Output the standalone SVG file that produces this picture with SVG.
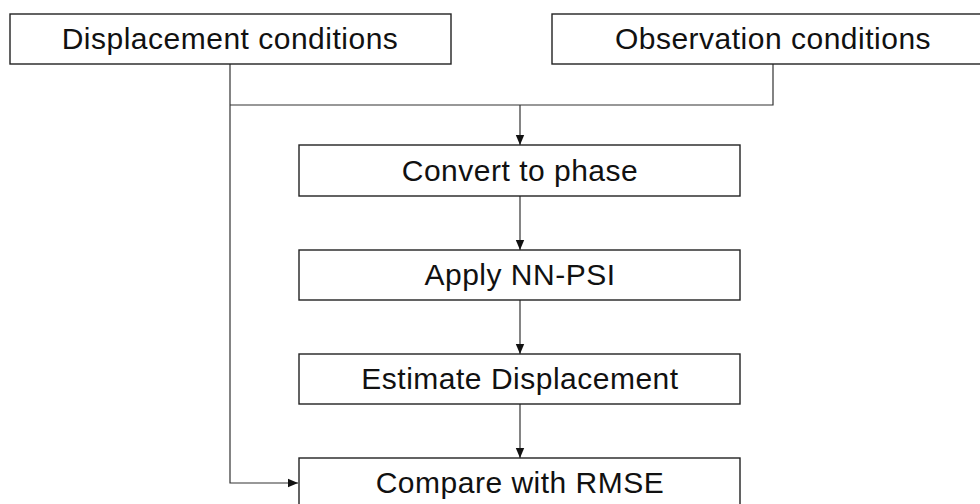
<svg xmlns="http://www.w3.org/2000/svg" width="980" height="504" viewBox="0 0 980 504">
  <style>
    .box { fill: #ffffff; stroke: #222222; stroke-width: 1.4; }
    .lbl { font-family: "Liberation Sans", Arial, sans-serif; font-size: 30px; letter-spacing: 0.5px; fill: #111111; text-anchor: middle; }
    .wire { fill: none; stroke: #333333; stroke-width: 1.2; }
  </style>
  <defs>
    <marker id="arrow" viewBox="0 0 10 10" refX="10" refY="5" markerWidth="10" markerHeight="10" markerUnits="userSpaceOnUse" orient="auto">
      <path d="M0,0.8 L10,5 L0,9.2 Z" fill="#111111"/>
    </marker>
  </defs>

  <g id="connectors">
    <path class="wire" d="M230,64 V483 H298" marker-end="url(#arrow)"/>
    <path class="wire" d="M773,64 V105 H230"/>
    <path class="wire" d="M520,105 V145" marker-end="url(#arrow)"/>
    <path class="wire" d="M520,196 V250" marker-end="url(#arrow)"/>
    <path class="wire" d="M520,300 V354" marker-end="url(#arrow)"/>
    <path class="wire" d="M520,404 V458" marker-end="url(#arrow)"/>
  </g>

  <g id="displacement-conditions">
    <rect class="box" x="10" y="14" width="441" height="50"/>
    <text class="lbl" x="230" y="49">Displacement conditions</text>
  </g>
  <g id="observation-conditions">
    <rect class="box" x="552" y="14" width="440" height="50"/>
    <text class="lbl" x="773" y="49">Observation conditions</text>
  </g>
  <g id="convert-to-phase">
    <rect class="box" x="299" y="145" width="441" height="51"/>
    <text class="lbl" x="520" y="181">Convert to phase</text>
  </g>
  <g id="apply-nn-psi">
    <rect class="box" x="299" y="250" width="441" height="50"/>
    <text class="lbl" x="520" y="285">Apply NN-PSI</text>
  </g>
  <g id="estimate-displacement">
    <rect class="box" x="299" y="354" width="441" height="50"/>
    <text class="lbl" x="520" y="389">Estimate Displacement</text>
  </g>
  <g id="compare-with-rmse">
    <rect class="box" x="299" y="458" width="441" height="60"/>
    <text class="lbl" x="520" y="493">Compare with RMSE</text>
  </g>
</svg>
